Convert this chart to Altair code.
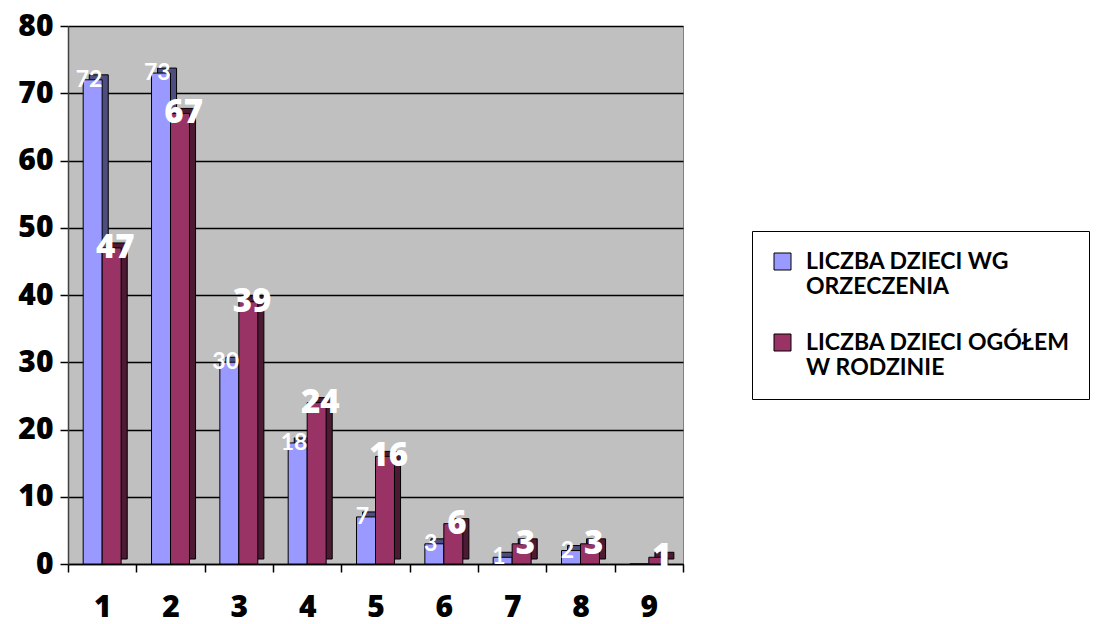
import altair as alt
import pandas as pd

categories = ["1", "2", "3", "4", "5", "6", "7", "8", "9"]
series_names = ["LICZBA DZIECI WG ORZECZENIA", "LICZBA DZIECI OGÓŁEM W RODZINIE"]
wg_orzeczenia = [72, 73, 30, 18, 7, 3, 1, 2, 0]
ogolem_w_rodzinie = [47, 67, 39, 24, 16, 6, 3, 3, 1]

rows = []
for c, a, b in zip(categories, wg_orzeczenia, ogolem_w_rodzinie):
    rows.append({"kat": c, "seria": series_names[0], "wartosc": a})
    rows.append({"kat": c, "seria": series_names[1], "wartosc": b})
df = pd.DataFrame(rows)

W, H = 615, 538
FONT = "Open Sans"
LFONT = "Lato"
HEAVY = 800

x = alt.X(
    "kat:N",
    sort=categories,
    scale=alt.Scale(paddingInner=0, paddingOuter=0),
    axis=alt.Axis(
        title=None, labelAngle=0, tickBand="extent", labelFont=FONT,
        labelFontSize=30, labelFontWeight=HEAVY, labelColor="black",
        labelPadding=20, tickSize=8, tickColor="black", tickWidth=1.5,
        domainColor="black", domainWidth=1.5, grid=False,
    ),
)
y = alt.Y(
    "wartosc:Q",
    scale=alt.Scale(domain=[0, 80], nice=False),
    axis=alt.Axis(
        title=None, values=list(range(0, 81, 10)), labelFont=FONT,
        labelFontSize=30, labelFontWeight=HEAVY, labelColor="black",
        tickSize=8, labelPadding=7, tickColor="black", tickWidth=1.5,
        domainColor="#404040", domainWidth=1.5, gridColor="black", gridWidth=1.5,
        minExtent=55, maxExtent=55,
    ),
)

main_off = alt.XOffset(
    "seria:N",
    scale=alt.Scale(domain=series_names, paddingInner=0, paddingOuter=0.8),
)
shadow_off = alt.XOffset(
    "seria:N",
    scale=alt.Scale(domain=series_names, paddingInner=0, paddingOuter=0.8, align=0.7),
)

label_expr = (
    "datum.label == 'LICZBA DZIECI WG ORZECZENIA' ? "
    "['LICZBA DZIECI WG', 'ORZECZENIA'] : ['LICZBA DZIECI OGÓŁEM', 'W RODZINIE']"
)

legend = alt.Legend(
    title=None, orient="none", legendX=684, legendY=205,
    labelFont=LFONT, labelFontSize=23, labelFontWeight="bold", labelColor="black",
    labelLimit=400, labelExpr=label_expr, labelOffset=12,
    symbolType="square", symbolSize=289, symbolStrokeColor="black",
    symbolStrokeWidth=1, strokeColor="black", fillColor="white",
    padding=19, rowPadding=32,
)

shadow = alt.Chart(df).transform_filter("datum.wartosc > 0").mark_bar(
    yOffset=-5, stroke="black", strokeWidth=1
).encode(
    x=x, y=y, xOffset=shadow_off,
    color=alt.Color("seria:N", scale=alt.Scale(domain=series_names, range=["#4D4D80", "#4D1A33"]), legend=None),
)

bars = alt.Chart(df).mark_bar(stroke="black", strokeWidth=1).encode(
    x=x, y=y, xOffset=main_off,
    color=alt.Color("seria:N", scale=alt.Scale(domain=series_names, range=["#9999FF", "#993366"]), legend=legend),
)

text1 = alt.Chart(df).transform_filter(
    f"datum.seria == '{series_names[0]}' && datum.wartosc > 0"
).mark_text(color="white", font=LFONT, fontSize=23, fontWeight="bold", baseline="middle").encode(
    x=x, y=y, xOffset=main_off, text="wartosc:Q"
)

text2 = alt.Chart(df).transform_filter(
    f"datum.seria == '{series_names[1]}' && datum.wartosc > 0"
).mark_text(color="white", font=FONT, fontSize=33, fontWeight=HEAVY, baseline="middle").encode(
    x=x, y=y, xOffset=main_off, text="wartosc:Q"
)

chart = alt.layer(shadow, bars, text1, text2).resolve_scale(
    xOffset="independent", color="independent"
).properties(
    width=W, height=H, padding={"left": 5, "top": 3, "right": 0, "bottom": 0}
).configure_view(fill="#C0C0C0", stroke="#808080")

chart.save("out.html", embed_options={"renderer": "svg", "actions": False})
